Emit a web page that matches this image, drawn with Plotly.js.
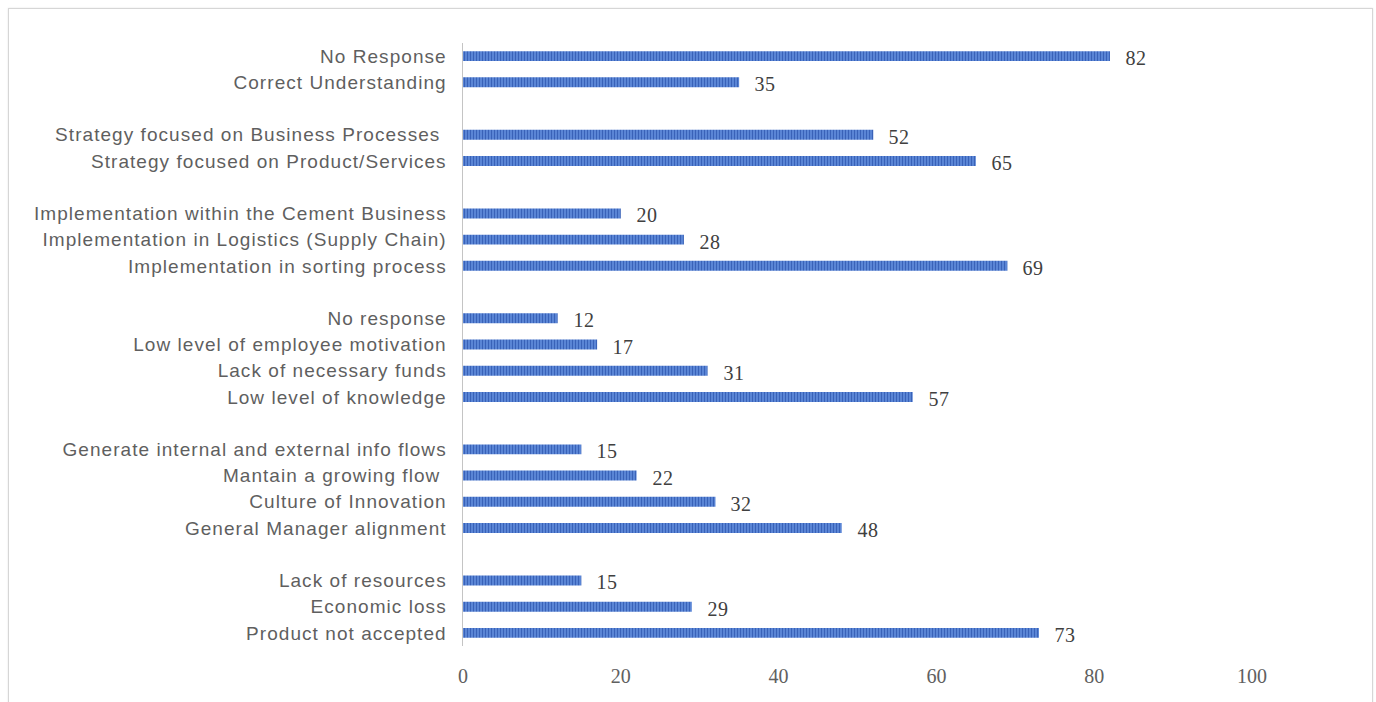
<!DOCTYPE html>
<html>
<head>
<meta charset="utf-8">
<script src="https://cdn.plot.ly/plotly-3.0.1.min.js"></script>
<style>
  html, body { margin: 0; padding: 0; background: #ffffff; }
  #frame { position: absolute; left: 8px; top: 8px; width: 1363px; height: 710px; border: 1px solid #d6d6d6; box-shadow: 0 0 2px #e6e6e6; }
  #chart { position: absolute; left: 0; top: 0; width: 1376px; height: 702px; }
  #chart .ytick text { letter-spacing: 1.05px; }
  #chart .annotation-text { letter-spacing: 0.5px; }
</style>
</head>
<body>
<div id="frame"></div>
<div id="chart"></div>
<script>
// Groups of categories (top to bottom), with their values
const groupLabels = [
  ["No Response", "Correct Understanding"],
  ["Strategy focused on Business Processes ", "Strategy focused on Product/Services"],
  ["Implementation within the Cement Business", "Implementation in Logistics (Supply Chain)", "Implementation in sorting process"],
  ["No response", "Low level of employee motivation", "Lack of necessary funds", "Low level of knowledge"],
  ["Generate internal and external info flows", "Mantain a growing flow ", "Culture of Innovation", "General Manager alignment"],
  ["Lack of resources", "Economic loss", "Product not accepted"]
];
const groupValues = [
  [82, 35],
  [52, 65],
  [20, 28, 69],
  [12, 17, 31, 57],
  [15, 22, 32, 48],
  [15, 29, 73]
];
const xTickValues = [0, 20, 40, 60, 80, 100];

// Build flat arrays; one blank slot between groups
const labels = [], values = [], pos = [];
let slot = 0;
groupLabels.forEach((g, gi) => {
  g.forEach((lab, i) => {
    labels.push(lab);
    values.push(groupValues[gi][i]);
    pos.push(slot);
    slot++;
  });
  slot++; // gap
});
const lastSlot = slot - 2;

const trace = {
  type: 'bar',
  orientation: 'h',
  x: values,
  y: pos,
  width: 0.38,
  marker: {
    color: '#4a76cc',
    line: { width: 0 },
    pattern: { shape: '|', bgcolor: '#5d89d8', fgcolor: '#3962b8', size: 3, solidity: 0.4, fillmode: 'replace' }
  },
  hoverinfo: 'skip'
};

const annotations = values.map((v, i) => ({
  x: v, y: pos[i], xref: 'x', yref: 'y',
  text: String(v), showarrow: false,
  xanchor: 'left', yanchor: 'middle', xshift: 14, yshift: -2,
  font: { family: 'Liberation Serif, Times New Roman, serif', size: 20, color: '#404040' }
}));

const layout = {
  width: 1376, height: 702,
  margin: { l: 463, r: 124, t: 43, b: 56, pad: 0 },
  paper_bgcolor: 'rgba(0,0,0,0)',
  plot_bgcolor: 'rgba(0,0,0,0)',
  showlegend: false,
  xaxis: {
    range: [0, 100],
    tickvals: xTickValues,
    ticktext: xTickValues.map(String),
    showgrid: false, zeroline: false, showline: false,
    ticks: '',
    ticklabelstandoff: 16,
    tickfont: { family: 'Liberation Serif, Times New Roman, serif', size: 20, color: '#606060' },
    fixedrange: true
  },
  yaxis: {
    range: [lastSlot + 0.5, -0.5],
    tickvals: pos,
    ticktext: labels,
    showgrid: false, zeroline: false,
    showline: true, linecolor: '#c4c4c4', linewidth: 1.5,
    ticks: '',
    ticklabelstandoff: 11,
    tickfont: { family: 'Liberation Sans, Arial, sans-serif', size: 19, color: '#5f5f5f' },
    fixedrange: true
  },
  annotations: annotations
};

Plotly.newPlot('chart', [trace], layout, { displayModeBar: false, staticPlot: true });
</script>
</body>
</html>
